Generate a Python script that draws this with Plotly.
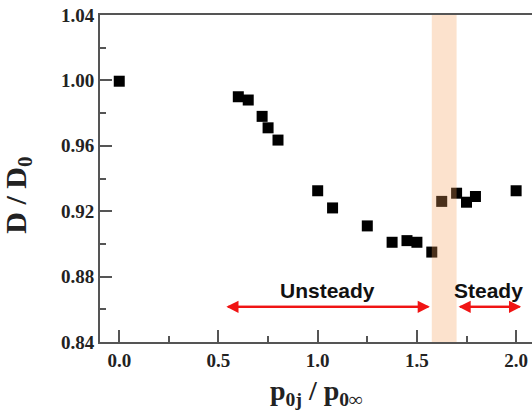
import plotly.graph_objects as go

x_vals = [0.0, 0.60, 0.65, 0.72, 0.75, 0.80, 1.00, 1.075, 1.25, 1.375, 1.45, 1.50, 1.575, 1.625, 1.70, 1.75, 1.795, 2.00]
y_vals = [0.9995, 0.990, 0.988, 0.978, 0.971, 0.9635, 0.9325, 0.922, 0.911, 0.901, 0.902, 0.901, 0.895, 0.926, 0.931, 0.9255, 0.929, 0.9325]

band_x = [1.575, 1.70]
unsteady_span = [0.54, 1.565]
steady_span = [1.71, 2.025]
arrow_y = 0.8615
unsteady_label = ["Unsteady", 1.05, 0.8712]
steady_label = ["Steady", 1.86, 0.8718]
x_ticks = [0.0, 0.5, 1.0, 1.5, 2.0]
y_ticks = [0.84, 0.88, 0.92, 0.96, 1.00, 1.04]
x_title = "p<sub>0j</sub> / p<sub>0∞</sub>"
y_title = "D / D<sub>0</sub>"

fig = go.Figure()
fig.add_trace(go.Scatter(
    x=x_vals, y=y_vals, mode="markers",
    marker=dict(symbol="square", size=11, color="black"),
    showlegend=False, hoverinfo="skip"))

# shaded transition band (drawn above markers, semi-transparent)
fig.add_shape(type="rect", xref="x", yref="paper", x0=band_x[0], x1=band_x[1], y0=0, y1=1,
              fillcolor="rgb(245,160,90)", opacity=0.3, line_width=0, layer="above")

red = "rgb(240,20,20)"
for span in (unsteady_span, steady_span):
    for a, b in ((span[0], span[1]), (span[1], span[0])):
        fig.add_annotation(x=a, y=arrow_y, ax=b, ay=arrow_y, xref="x", yref="y",
                           axref="x", ayref="y", text="", showarrow=True,
                           arrowhead=2, arrowsize=1.1, arrowwidth=2.2, arrowcolor=red)

for txt, lx, ly in (unsteady_label, steady_label):
    fig.add_annotation(x=lx, y=ly, text=f"<b>{txt}</b>", showarrow=False,
                       font=dict(family="Liberation Sans", size=21, color="#111"))

# axis titles
fig.add_annotation(xref="paper", yref="paper", x=0.502, y=-0.155, text=f"<b>{x_title}</b>",
                   showarrow=False, xanchor="center", yanchor="middle",
                   font=dict(family="Liberation Serif", size=28, color="#222"))
fig.add_annotation(xref="paper", yref="paper", x=-0.19, y=0.45, text=f"<b>{y_title}</b>",
                   showarrow=False, textangle=-90, xanchor="center", yanchor="middle",
                   font=dict(family="Liberation Serif", size=30, color="#222"))

axis_common = dict(showline=True, linecolor="#555", linewidth=2, ticks="inside",
                   tickcolor="#555", tickwidth=1.5, ticklen=12, showgrid=False, zeroline=False,
                   automargin=False, ticklabeloverflow="allow",
                   tickfont=dict(family="Liberation Serif", size=19, color="#222"))

fig.update_xaxes(range=[-0.097, 2.08], tickvals=x_ticks, ticktext=[f"<b>{v:.1f}</b>" for v in x_ticks],
                 minor=dict(dtick=0.25, ticks="inside", ticklen=6, tickcolor="#555", tickwidth=1.5),
                 mirror=True, **axis_common)
fig.update_yaxes(range=[0.84, 1.04], tickvals=y_ticks, ticktext=[f"<b>{v:.2f}</b>" for v in y_ticks],
                 minor=dict(dtick=0.02, ticks="inside", ticklen=6, tickcolor="#555", tickwidth=1.5),
                 **axis_common)

fig.update_layout(width=532, height=413, margin=dict(l=100, r=0, t=15, b=71),
                  plot_bgcolor="white", paper_bgcolor="white")
# remove the default page margin so the figure fills the window exactly
fig.write_html("out.html", config={"displayModeBar": False},
               post_script="document.body.style.margin='0';document.body.style.overflow='hidden';")
